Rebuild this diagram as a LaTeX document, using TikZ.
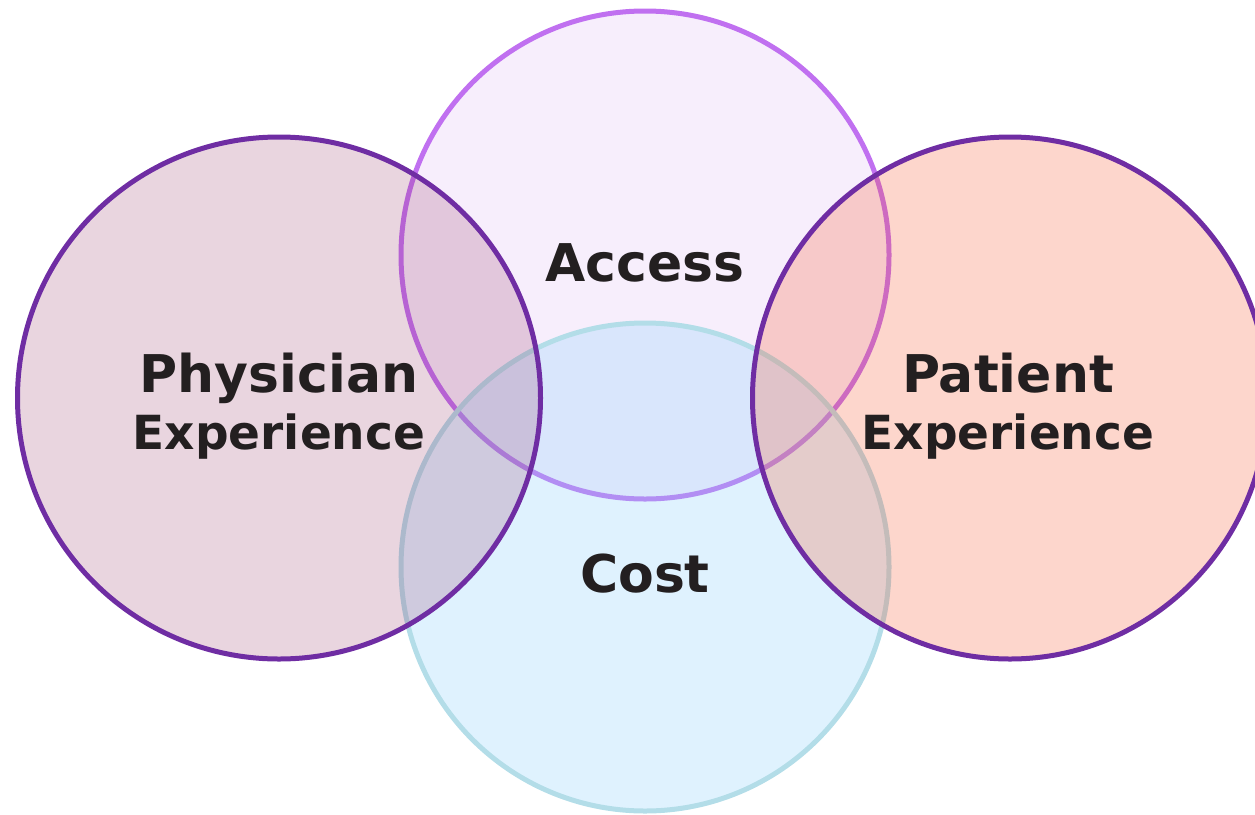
\documentclass[tikz,border=0pt]{standalone}
\usepackage{fontspec}
\setmainfont{DejaVu Sans}
\usepackage{tikz}
\usetikzlibrary{positioning}
\definecolor{ringdark}{HTML}{6F2DA3}
\definecolor{ringaccess}{HTML}{C070F0}
\definecolor{ringcost}{HTML}{B3DDE8}
\definecolor{fillaccess}{RGB}{215,170,240}
\definecolor{fillcost}{RGB}{148,212,252}
\definecolor{fillphys}{RGB}{145,45,95}
\definecolor{fillpat}{RGB}{247,91,51}
\definecolor{labeltext}{HTML}{231F20}

\begin{document}
\begin{tikzpicture}[x=1pt,y=-1pt]
\tikzstyle{every node}+=[inner sep=0pt,anchor=base,text=labeltext,font=\bfseries]
\tikzstyle{ring}=[line width=5pt,draw opacity=1]
\tikzstyle{bigword}=[font=\bfseries\fontsize{52}{60}\selectfont]
\tikzstyle{smallword}=[font=\bfseries\fontsize{47}{54}\selectfont]
\useasboundingbox (0,0) rectangle (1255,814);
% circles, back to front
\draw [ring,ringaccess,fill=fillaccess,fill opacity=0.2] (645,255) circle (244);
\draw [ring,ringcost,fill=fillcost,fill opacity=0.3] (645,567) circle (244);
\draw [ring,ringdark,fill=fillphys,fill opacity=0.2] (279,398) ellipse (261.5 and 261);
\draw [ring,ringdark,fill=fillpat,fill opacity=0.25] (1010,398) ellipse (257.5 and 261);
% labels
\node [bigword] (access) at (645,281) {Access};
\node [bigword] (cost) at (645,592) {Cost};
\node [bigword] (physician) at (279,392) {Physician};
\node [smallword] (physicianexp) at (279,449) {Experience};
\node [bigword] (patient) at (1008,392) {Patient};
\node [smallword] (patientexp) at (1008,449) {Experience};
\end{tikzpicture}
\end{document}
